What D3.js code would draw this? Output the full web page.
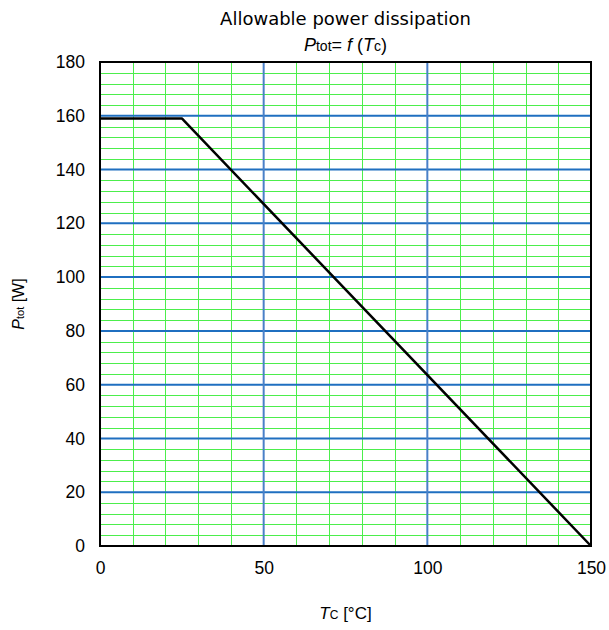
<!DOCTYPE html>
<html>
<head>
<meta charset="utf-8">
<script src="https://cdn.jsdelivr.net/npm/d3@7"></script>
<style>
  body { margin: 0; background: #fff; }
  svg { display: block; }
</style>
</head>
<body>
<div id="chart"></div>
<script>
// curve values
const tcPoints = [0, 25, 150];
const ptotPoints = [159, 159, 0];

const xTicks = [0, 50, 100, 150];
const yTicks = [0, 20, 40, 60, 80, 100, 120, 140, 160, 180];

const width = 609;
const height = 630;
const margin = { top: 62, right: 18, bottom: 84, left: 100 };
const w = width - margin.left - margin.right;
const h = height - margin.top - margin.bottom;

const svg = d3.select('#chart')
  .append('svg')
  .attr('width', width)
  .attr('height', height);

const g = svg.append('g')
  .attr('transform', `translate(${margin.left},${margin.top})`);

const x = d3.scaleLinear().domain([0, 150]).range([0, w]);
const y = d3.scaleLinear().domain([0, 180]).range([h, 0]);

// minor grid (green)
g.append('g')
  .selectAll('line')
  .data(d3.range(4, 180, 4).filter((v) => v % 20 !== 0))
  .join('line')
  .attr('x1', 0).attr('x2', w)
  .attr('y1', (d) => Math.round(y(d)) + 0.5)
  .attr('y2', (d) => Math.round(y(d)) + 0.5)
  .attr('stroke', '#4cee4c')
  .attr('stroke-width', 1);

g.append('g')
  .selectAll('line')
  .data(d3.range(10, 150, 10).filter((v) => v % 50 !== 0))
  .join('line')
  .attr('y1', 0).attr('y2', h)
  .attr('x1', (d) => Math.round(x(d)) + 0.5)
  .attr('x2', (d) => Math.round(x(d)) + 0.5)
  .attr('stroke', '#4cee4c')
  .attr('stroke-width', 1);

// major grid (blue)
g.append('g')
  .selectAll('line')
  .data(yTicks.filter((v) => v > 0 && v < 180))
  .join('line')
  .attr('x1', 0).attr('x2', w)
  .attr('y1', (d) => y(d))
  .attr('y2', (d) => y(d))
  .attr('stroke', '#1f6fc0')
  .attr('stroke-width', 2);

g.append('g')
  .selectAll('line')
  .data(xTicks.filter((v) => v > 0 && v < 150))
  .join('line')
  .attr('y1', 0).attr('y2', h)
  .attr('x1', (d) => x(d))
  .attr('x2', (d) => x(d))
  .attr('stroke', '#4a80c8')
  .attr('stroke-width', 2);

// frame
g.append('rect')
  .attr('width', w)
  .attr('height', h)
  .attr('fill', 'none')
  .attr('stroke', '#000')
  .attr('stroke-width', 2);

// axes (labels only)
const xAxis = g.append('g')
  .attr('transform', `translate(0,${h})`)
  .call(d3.axisBottom(x).tickValues(xTicks).tickSize(0).tickPadding(16));
const yAxis = g.append('g')
  .call(d3.axisLeft(y).tickValues(yTicks).tickSize(0).tickPadding(15));
[xAxis, yAxis].forEach((a) => {
  a.select('.domain').remove();
  a.selectAll('text')
    .attr('font-family', '"Liberation Sans", Arial, sans-serif')
    .attr('font-size', 17.5)
    .attr('fill', '#000');
});

// curve
const line = d3.line()
  .x((d, i) => x(tcPoints[i]))
  .y((d) => y(d));

g.append('path')
  .datum(ptotPoints)
  .attr('fill', 'none')
  .attr('stroke', '#000')
  .attr('stroke-width', 2.5)
  .attr('stroke-linejoin', 'round')
  .attr('d', line);

// titles
const cx = margin.left + w / 2;
svg.append('text')
  .attr('x', cx)
  .attr('y', 25)
  .attr('text-anchor', 'middle')
  .attr('font-family', '"DejaVu Sans", Verdana, sans-serif')
  .attr('font-size', 18)
  .text('Allowable power dissipation');

const sub = svg.append('text')
  .attr('x', cx)
  .attr('y', 51)
  .attr('text-anchor', 'middle')
  .attr('font-family', '"Liberation Sans", Arial, sans-serif')
  .attr('font-size', 18);
sub.append('tspan').attr('font-style', 'italic').text('P');
sub.append('tspan').attr('font-size', 14).text('tot');
sub.append('tspan').text('= ');
sub.append('tspan').attr('font-style', 'italic').text('f');
sub.append('tspan').text(' (');
sub.append('tspan').attr('font-style', 'italic').text('T');
sub.append('tspan').attr('font-size', 14).text('c');
sub.append('tspan').text(')');

const xl = svg.append('text')
  .attr('x', cx)
  .attr('y', 619)
  .attr('text-anchor', 'middle')
  .attr('font-family', '"Liberation Sans", Arial, sans-serif')
  .attr('font-size', 17);
xl.append('tspan').attr('font-style', 'italic').text('T');
xl.append('tspan').attr('font-size', 12).text('C');
xl.append('tspan').text(' [°C]');

const yl = svg.append('text')
  .attr('transform', `translate(24,${margin.top + h / 2}) rotate(-90)`)
  .attr('text-anchor', 'middle')
  .attr('font-family', '"Liberation Sans", Arial, sans-serif')
  .attr('font-size', 16);
yl.append('tspan').attr('font-style', 'italic').text('P');
yl.append('tspan').attr('font-size', 11).text('tot');
yl.append('tspan').text(' [W]');
</script>
</body>
</html>
